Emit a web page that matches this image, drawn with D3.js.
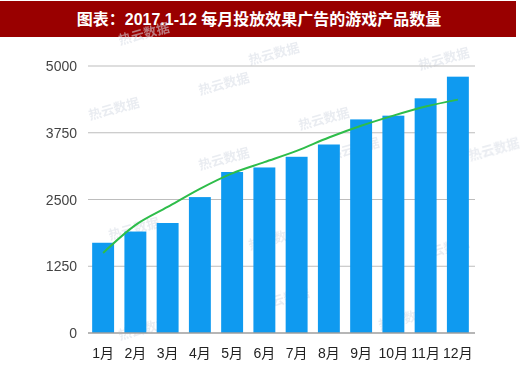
<!DOCTYPE html>
<html>
<head>
<meta charset="utf-8">
<script src="https://cdn.jsdelivr.net/npm/d3@7"></script>
<style>
  body { margin: 0; background: #fff; }
  svg { display: block; font-family: "Liberation Sans", "Noto Sans CJK SC", sans-serif; }
</style>
</head>
<body>
<svg id="chart" width="520" height="370"></svg>
<script>
var months = ['1月', '2月', '3月', '4月', '5月', '6月', '7月', '8月', '9月', '10月', '11月', '12月']
var counts = [1690, 1900, 2060, 2545, 3015, 3100, 3300, 3530, 4000, 4070, 4395, 4800]
var trend = [1500, 2020, 2360, 2700, 2990, 3200, 3410, 3660, 3880, 4070, 4240, 4370]
var yTicks = [0, 1250, 2500, 3750, 5000]
var title = '图表：2017.1-12 每月投放效果广告的游戏产品数量'

var svg = d3.select('#chart')

// title banner
svg.append('rect')
  .attr('x', 0).attr('y', 1)
  .attr('width', 516).attr('height', 36)
  .attr('fill', '#990000')
svg.append('text')
  .attr('x', 259).attr('y', 25)
  .attr('text-anchor', 'middle')
  .attr('fill', '#fff')
  .attr('font-size', 16)
  .attr('font-weight', 'bold')
  .text(title)

var x = d3.scaleBand()
  .domain(months)
  .range([87, 474])
  .paddingInner(0.32)
  .paddingOuter(0.16)

var y = d3.scaleLinear()
  .domain([0, 5000])
  .range([333, 66])

// faint watermarks
var wm = svg.append('g').attr('fill', '#d8dde6').attr('opacity', 0.55)
var wmPos = [[120, 45], [250, 65], [420, 70], [90, 120], [200, 95], [300, 130], [200, 170], [330, 160], [470, 160], [110, 240], [250, 250], [420, 260], [120, 340], [260, 310], [380, 330]]
wmPos.forEach(function(p) {
  wm.append('text')
    .attr('transform', 'translate(' + p[0] + ',' + p[1] + ') rotate(-15)')
    .attr('font-size', 13)
    .attr('font-weight', 'bold')
    .text('热云数据')
})

// grid
svg.append('g').selectAll('line')
  .data(yTicks.filter(function(d) { return d > 0 }))
  .enter().append('line')
    .attr('x1', 88).attr('x2', 475)
    .attr('y1', function(d) { return y(d) }).attr('y2', function(d) { return y(d) })
    .attr('stroke', '#bdbdbd')
    .attr('stroke-width', 1)

// y tick labels
svg.append('g').selectAll('text')
  .data(yTicks)
  .enter().append('text')
    .attr('x', 77)
    .attr('y', function(d) { return y(d) + 5 })
    .attr('text-anchor', 'end')
    .attr('font-size', 14)
    .attr('fill', '#444')
    .text(function(d) { return d })

// bars
svg.append('g').selectAll('rect')
  .data(counts)
  .enter().append('rect')
    .attr('x', function(d, i) { return x(months[i]) })
    .attr('y', function(d) { return y(d) })
    .attr('width', x.bandwidth())
    .attr('height', function(d) { return y(0) - y(d) })
    .attr('fill', '#0f9af0')

// baseline
svg.append('line')
  .attr('x1', 88).attr('x2', 475)
  .attr('y1', y(0)).attr('y2', y(0))
  .attr('stroke', '#9e9e9e')
  .attr('stroke-width', 1.5)

// trend
var line = d3.line()
  .x(function(d, i) { return x(months[i]) + x.bandwidth() / 2 })
  .y(function(d) { return y(d) })
  .curve(d3.curveMonotoneX)

svg.append('path')
  .datum(trend)
  .attr('d', line)
  .attr('fill', 'none')
  .attr('stroke', '#2ebd4a')
  .attr('stroke-width', 2)

// x labels
svg.append('g').selectAll('text')
  .data(months)
  .enter().append('text')
    .attr('x', function(d) { return x(d) + x.bandwidth() / 2 })
    .attr('y', 358)
    .attr('text-anchor', 'middle')
    .attr('font-size', 14)
    .attr('fill', '#222')
    .text(function(d) { return d })
</script>
</body>
</html>
